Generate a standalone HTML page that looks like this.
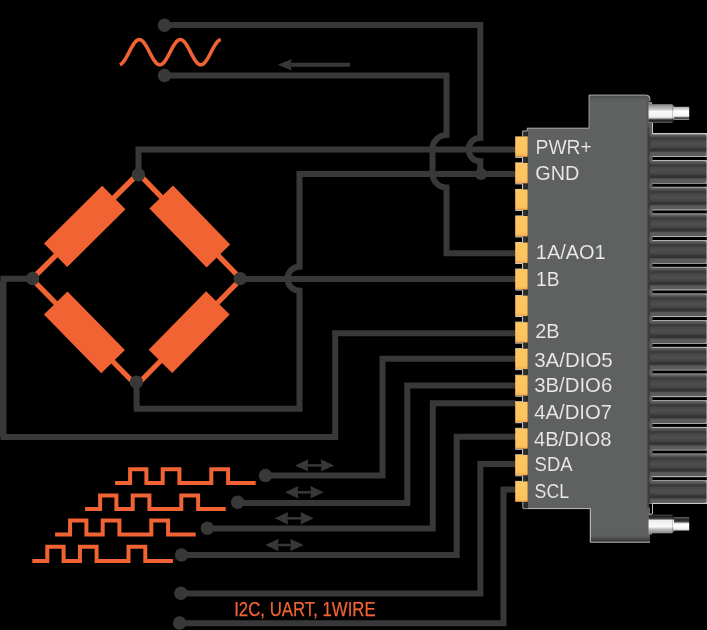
<!DOCTYPE html>
<html><head><meta charset="utf-8"><style>
html,body{margin:0;padding:0;background:#000;width:707px;height:630px;overflow:hidden}
svg{display:block;will-change:transform}
</style></head><body>
<svg width="707" height="630" viewBox="0 0 707 630">
<rect width="707" height="630" fill="#000"/>
<defs>
<linearGradient id="cyl" x1="0" y1="0" x2="0" y2="1">
<stop offset="0" stop-color="#626262"/><stop offset="0.07" stop-color="#5a5a5a"/><stop offset="0.14" stop-color="#444"/><stop offset="0.2" stop-color="#383838"/><stop offset="0.3" stop-color="#474747"/><stop offset="0.45" stop-color="#4e4e4e"/><stop offset="0.58" stop-color="#474747"/><stop offset="0.68" stop-color="#353535"/><stop offset="0.76" stop-color="#333"/><stop offset="0.82" stop-color="#555"/><stop offset="0.9" stop-color="#5d5d5d"/><stop offset="1" stop-color="#5a5a5a"/>
</linearGradient>
<linearGradient id="silverT" x1="0" y1="0" x2="0" y2="1">
<stop offset="0" stop-color="#777"/><stop offset="0.1" stop-color="#9a9a9a"/><stop offset="0.3" stop-color="#c8c8c8"/><stop offset="0.38" stop-color="#f8f8f8"/><stop offset="0.7" stop-color="#f0f0f0"/><stop offset="0.78" stop-color="#9a9a9a"/><stop offset="0.85" stop-color="#222"/><stop offset="0.95" stop-color="#333"/><stop offset="1" stop-color="#888"/>
</linearGradient>
<linearGradient id="silverT2" x1="0" y1="0" x2="0" y2="1">
<stop offset="0" stop-color="#aaa"/><stop offset="0.2" stop-color="#ddd"/><stop offset="0.35" stop-color="#fff"/><stop offset="0.7" stop-color="#f4f4f4"/><stop offset="0.78" stop-color="#999"/><stop offset="0.85" stop-color="#2a2a2a"/><stop offset="1" stop-color="#aaa"/>
</linearGradient>
<linearGradient id="silverB" x1="0" y1="0" x2="0" y2="1">
<stop offset="0" stop-color="#555"/><stop offset="0.08" stop-color="#1e1e1e"/><stop offset="0.22" stop-color="#444"/><stop offset="0.3" stop-color="#eee"/><stop offset="0.65" stop-color="#fafafa"/><stop offset="0.78" stop-color="#bbb"/><stop offset="1" stop-color="#8a8a8a"/>
</linearGradient>
<linearGradient id="silverB2" x1="0" y1="0" x2="0" y2="1">
<stop offset="0" stop-color="#999"/><stop offset="0.1" stop-color="#2a2a2a"/><stop offset="0.3" stop-color="#333"/><stop offset="0.45" stop-color="#ddd"/><stop offset="0.55" stop-color="#fff"/><stop offset="0.85" stop-color="#f4f4f4"/><stop offset="1" stop-color="#bbb"/>
</linearGradient>
<linearGradient id="pin" x1="0" y1="0" x2="0" y2="1">
<stop offset="0" stop-color="#fec664"/><stop offset="0.85" stop-color="#fdc25f"/><stop offset="1" stop-color="#f2a848"/>
</linearGradient>
<linearGradient id="tabshade" x1="0" y1="0" x2="0" y2="1">
<stop offset="0" stop-color="#595959" stop-opacity="0"/><stop offset="1" stop-color="#2a2a2a"/>
</linearGradient>
<linearGradient id="tabtop" x1="0" y1="0" x2="0" y2="1"><stop offset="0" stop-color="#4a4c4b"/><stop offset="1" stop-color="#5f6160" stop-opacity="0"/></linearGradient>
<linearGradient id="rightedge" x1="0" y1="0" x2="1" y2="0"><stop offset="0" stop-color="#5f6160" stop-opacity="0"/><stop offset="1" stop-color="#474948"/></linearGradient>
</defs>
<polyline points="119.80,64.65 120.43,64.41 121.06,64.05 121.69,63.58 122.33,63.01 122.96,62.33 123.59,61.56 124.22,60.70 124.85,59.76 125.48,58.75 126.11,57.68 126.74,56.56 127.38,55.40 128.01,54.21 128.64,53.00 129.27,51.78 129.90,50.56 130.53,49.36 131.16,48.19 131.79,47.06 132.43,45.97 133.06,44.94 133.69,43.98 134.32,43.10 134.95,42.30 135.58,41.59 136.21,40.98 136.84,40.48 137.47,40.09 138.11,39.81 138.74,39.65 139.37,39.60 140.00,39.67 140.63,39.86 141.26,40.17 141.89,40.58 142.53,41.11 143.16,41.74 143.79,42.46 144.42,43.28 145.05,44.18 145.68,45.16 146.31,46.20 146.94,47.30 147.57,48.44 148.21,49.62 148.84,50.83 149.47,52.04 150.10,53.26 150.73,54.47 151.36,55.65 151.99,56.81 152.62,57.92 153.26,58.98 153.89,59.97 154.52,60.89 155.15,61.73 155.78,62.49 156.41,63.14 157.04,63.69 157.68,64.14 158.31,64.47 158.94,64.69 159.57,64.79 160.20,64.78 160.83,64.64 161.46,64.39 162.09,64.03 162.72,63.56 163.36,62.97 163.99,62.29 164.62,61.52 165.25,60.65 165.88,59.71 166.51,58.70 167.14,57.63 167.78,56.50 168.41,55.34 169.04,54.15 169.67,52.94 170.30,51.72 170.93,50.50 171.56,49.31 172.19,48.13 172.83,47.00 173.46,45.92 174.09,44.89 174.72,43.93 175.35,43.05 175.98,42.26 176.61,41.56 177.24,40.96 177.88,40.46 178.51,40.07 179.14,39.80 179.77,39.64 180.40,39.60 181.03,39.68 181.66,39.87 182.29,40.18 182.93,40.61 183.56,41.14 184.19,41.77 184.82,42.50 185.45,43.32 186.08,44.23 186.71,45.21 187.34,46.26 187.98,47.36 188.61,48.50 189.24,49.68 189.87,50.89 190.50,52.10 191.13,53.32 191.76,54.53 192.39,55.71 193.03,56.87 193.66,57.97 194.29,59.03 194.92,60.02 195.55,60.94 196.18,61.77 196.81,62.52 197.44,63.17 198.07,63.72 198.71,64.16 199.34,64.48 199.97,64.70 200.60,64.79 201.23,64.77 201.86,64.63 202.49,64.38 203.12,64.01 203.76,63.53 204.39,62.94 205.02,62.26 205.65,61.48 206.28,60.61 206.91,59.66 207.54,58.65 208.18,57.57 208.81,56.45 209.44,55.28 210.07,54.09 210.70,52.88 211.33,51.66 211.96,50.44 212.59,49.25 213.23,48.08 213.86,46.95 214.49,45.87 215.12,44.84 215.75,43.89 216.38,43.01 217.01,42.22 217.64,41.53 218.28,40.93 218.91,40.44 219.54,40.06 220.17,39.79 220.80,39.64" fill="none" stroke="#f26334" stroke-width="3.6" stroke-linecap="butt" stroke-linejoin="round"/>
<path d="M291,64.7 H350" stroke="#383838" stroke-width="4"/>
<path d="M277.9,64.7 L291.6,59.2 L290.6,64.7 L291.6,70.4 Z" fill="#383838"/>
<line x1="138.4" y1="173.5" x2="241" y2="279" stroke="#f26334" stroke-width="5.3"/>
<rect x="-41" y="-16.5" width="82" height="33" fill="#f26334" transform="translate(189.80,226.50) rotate(45.80)"/>
<line x1="241" y1="279" x2="136.4" y2="385.5" stroke="#f26334" stroke-width="5.3"/>
<rect x="-41" y="-16.5" width="82" height="33" fill="#f26334" transform="translate(189.20,332.10) rotate(134.48)"/>
<line x1="136.4" y1="385.5" x2="32" y2="279" stroke="#f26334" stroke-width="5.3"/>
<rect x="-41" y="-16.5" width="82" height="33" fill="#f26334" transform="translate(84.40,332.30) rotate(-134.43)"/>
<line x1="32" y1="279" x2="138.4" y2="173.5" stroke="#f26334" stroke-width="5.3"/>
<rect x="-41" y="-16.5" width="82" height="33" fill="#f26334" transform="translate(84.70,226.40) rotate(-44.76)"/>
<rect x="0" y="281" width="1.5" height="156" fill="#383838"/>
<path d="M164.5,25 H480.3 V137.8 A11.7,11.7 0 0 0 480.3,161.2 V174" fill="none" stroke="#383838" stroke-width="6" stroke-linejoin="miter"/>
<path d="M164.5,75.5 H446.5 V135 A14,14 0 0 0 432.5,149 V173.5 A14,14 0 0 0 446.5,187.5 V253.2 H516" fill="none" stroke="#383838" stroke-width="6" stroke-linejoin="miter"/>
<path d="M138.5,174.8 V149.5 H516" fill="none" stroke="#383838" stroke-width="6" stroke-linejoin="miter"/>
<path d="M136.6,382.1 V408.8 H299.5 V290.7 A12,12 0 0 1 299.5,266.7 V174 H516" fill="none" stroke="#383838" stroke-width="6" stroke-linejoin="miter"/>
<path d="M240.3,279 H516" fill="none" stroke="#383838" stroke-width="6" stroke-linejoin="miter"/>
<path d="M32.6,278.8 H3.45 V436.9 H335.2 V333.3 H516" fill="none" stroke="#383838" stroke-width="6" stroke-linejoin="miter"/>
<path d="M265.5,475.5 H382.5 V358.8 H516" fill="none" stroke="#383838" stroke-width="6" stroke-linejoin="miter"/>
<path d="M237.6,503 H407.3 V385.5 H516" fill="none" stroke="#383838" stroke-width="6" stroke-linejoin="miter"/>
<path d="M207.5,528.5 H432.8 V403.3 H516" fill="none" stroke="#383838" stroke-width="6" stroke-linejoin="miter"/>
<path d="M181.6,554.9 H456.7 V436.7 H516" fill="none" stroke="#383838" stroke-width="6" stroke-linejoin="miter"/>
<path d="M181,593.5 H480.4 V464 H516" fill="none" stroke="#383838" stroke-width="6" stroke-linejoin="miter"/>
<path d="M179.6,623.2 H503.5 V489.5 H516" fill="none" stroke="#383838" stroke-width="6" stroke-linejoin="miter"/>
<circle cx="164.5" cy="25.2" r="6.7" fill="#383838"/>
<circle cx="164.5" cy="75.5" r="6.7" fill="#383838"/>
<circle cx="481" cy="174" r="6.1" fill="#383838"/>
<circle cx="138.4" cy="174.8" r="6.7" fill="#383838"/>
<circle cx="32.6" cy="278.5" r="6.7" fill="#383838"/>
<circle cx="240.3" cy="278.6" r="6.7" fill="#383838"/>
<circle cx="136.4" cy="382.1" r="6.7" fill="#383838"/>
<circle cx="265.5" cy="475.5" r="6.7" fill="#383838"/>
<circle cx="237.6" cy="502.3" r="6.7" fill="#383838"/>
<circle cx="207.4" cy="528.2" r="6.7" fill="#383838"/>
<circle cx="181.6" cy="554.9" r="6.7" fill="#383838"/>
<circle cx="180.9" cy="593.3" r="6.7" fill="#383838"/>
<circle cx="179.6" cy="623" r="6.7" fill="#383838"/>
<path d="M307,465.4 H322.1" stroke="#383838" stroke-width="2.5"/>
<path d="M295,465.4 L308.3,459.2 L307.5,465.4 L308.3,471.59999999999997 Z" fill="#383838"/>
<path d="M334.1,465.4 L320.8,459.2 L321.6,465.4 L320.8,471.59999999999997 Z" fill="#383838"/>
<path d="M297.1,492.3 H311.7" stroke="#383838" stroke-width="2.5"/>
<path d="M285.1,492.3 L298.40000000000003,486.1 L297.6,492.3 L298.40000000000003,498.5 Z" fill="#383838"/>
<path d="M323.7,492.3 L310.4,486.1 L311.2,492.3 L310.4,498.5 Z" fill="#383838"/>
<path d="M286.8,518.3 H301.8" stroke="#383838" stroke-width="2.5"/>
<path d="M274.8,518.3 L288.1,512.0999999999999 L287.3,518.3 L288.1,524.5 Z" fill="#383838"/>
<path d="M313.8,518.3 L300.5,512.0999999999999 L301.3,518.3 L300.5,524.5 Z" fill="#383838"/>
<path d="M277.3,545 H291.5" stroke="#383838" stroke-width="2.5"/>
<path d="M265.3,545 L278.6,538.8 L277.8,545 L278.6,551.2 Z" fill="#383838"/>
<path d="M303.5,545 L290.2,538.8 L291.0,545 L290.2,551.2 Z" fill="#383838"/>
<path d="M115.1,482.9 H130.1 V469.2 H146.4 V482.9 H162.7 V469.2 H179.4 V482.9 H211.3 V469.2 H228.1 V482.9 H255.7" fill="none" stroke="#f26334" stroke-width="4" stroke-linejoin="miter"/>
<path d="M85.1,508.9 H100.1 V495.5 H116.4 V508.9 H132.7 V495.5 H149.4 V508.9 H181.3 V495.5 H198.1 V508.9 H225.7" fill="none" stroke="#f26334" stroke-width="4" stroke-linejoin="miter"/>
<path d="M55.1,534.6 H70.1 V520.6 H86.4 V534.6 H102.7 V520.6 H119.4 V534.6 H151.3 V520.6 H168.1 V534.6 H195.7" fill="none" stroke="#f26334" stroke-width="4" stroke-linejoin="miter"/>
<path d="M32.3,560.9 H47.3 V546.7 H63.6 V560.9 H79.9 V546.7 H96.6 V560.9 H128.5 V546.7 H145.3 V560.9 H172.9" fill="none" stroke="#f26334" stroke-width="4" stroke-linejoin="miter"/>
<text x="234.2" y="615.8" font-family="Liberation Sans, sans-serif" font-size="19.8" fill="#f26334" stroke="#f26334" stroke-width="0.25" textLength="141.5" lengthAdjust="spacingAndGlyphs">I2C, UART, 1WIRE</text>
<rect x="648.6" y="133.3" width="58.4" height="370.4" fill="#cfcfcf"/>
<rect x="648.6" y="123" width="3.8" height="380.5" fill="#5a5a5a"/>
<rect x="648.6" y="134.20" width="57.9" height="22" rx="2" fill="url(#cyl)"/>
<rect x="648.4" y="134.70" width="1.6" height="21" fill="#393939"/>
<rect x="652.4" y="157.00" width="56" height="3.1" fill="#000"/>
<rect x="648.6" y="160.88" width="57.9" height="22" rx="2" fill="url(#cyl)"/>
<rect x="648.4" y="161.38" width="1.6" height="21" fill="#393939"/>
<rect x="652.4" y="183.68" width="56" height="3.1" fill="#000"/>
<rect x="648.6" y="187.56" width="57.9" height="22" rx="2" fill="url(#cyl)"/>
<rect x="648.4" y="188.06" width="1.6" height="21" fill="#393939"/>
<rect x="652.4" y="210.36" width="56" height="3.1" fill="#000"/>
<rect x="648.6" y="214.24" width="57.9" height="22" rx="2" fill="url(#cyl)"/>
<rect x="648.4" y="214.74" width="1.6" height="21" fill="#393939"/>
<rect x="652.4" y="237.04" width="56" height="3.1" fill="#000"/>
<rect x="648.6" y="240.92" width="57.9" height="22" rx="2" fill="url(#cyl)"/>
<rect x="648.4" y="241.42" width="1.6" height="21" fill="#393939"/>
<rect x="652.4" y="263.72" width="56" height="3.1" fill="#000"/>
<rect x="648.6" y="267.60" width="57.9" height="22" rx="2" fill="url(#cyl)"/>
<rect x="648.4" y="268.10" width="1.6" height="21" fill="#393939"/>
<rect x="652.4" y="290.40" width="56" height="3.1" fill="#000"/>
<rect x="648.6" y="294.28" width="57.9" height="22" rx="2" fill="url(#cyl)"/>
<rect x="648.4" y="294.78" width="1.6" height="21" fill="#393939"/>
<rect x="652.4" y="317.08" width="56" height="3.1" fill="#000"/>
<rect x="648.6" y="320.96" width="57.9" height="22" rx="2" fill="url(#cyl)"/>
<rect x="648.4" y="321.46" width="1.6" height="21" fill="#393939"/>
<rect x="652.4" y="343.76" width="56" height="3.1" fill="#000"/>
<rect x="648.6" y="347.64" width="57.9" height="22" rx="2" fill="url(#cyl)"/>
<rect x="648.4" y="348.14" width="1.6" height="21" fill="#393939"/>
<rect x="652.4" y="370.44" width="56" height="3.1" fill="#000"/>
<rect x="648.6" y="374.32" width="57.9" height="22" rx="2" fill="url(#cyl)"/>
<rect x="648.4" y="374.82" width="1.6" height="21" fill="#393939"/>
<rect x="652.4" y="397.12" width="56" height="3.1" fill="#000"/>
<rect x="648.6" y="401.00" width="57.9" height="22" rx="2" fill="url(#cyl)"/>
<rect x="648.4" y="401.50" width="1.6" height="21" fill="#393939"/>
<rect x="652.4" y="423.80" width="56" height="3.1" fill="#000"/>
<rect x="648.6" y="427.68" width="57.9" height="22" rx="2" fill="url(#cyl)"/>
<rect x="648.4" y="428.18" width="1.6" height="21" fill="#393939"/>
<rect x="652.4" y="450.48" width="56" height="3.1" fill="#000"/>
<rect x="648.6" y="454.36" width="57.9" height="22" rx="2" fill="url(#cyl)"/>
<rect x="648.4" y="454.86" width="1.6" height="21" fill="#393939"/>
<rect x="652.4" y="477.16" width="56" height="3.1" fill="#000"/>
<rect x="648.6" y="481.04" width="57.9" height="22" rx="2" fill="url(#cyl)"/>
<rect x="648.4" y="481.54" width="1.6" height="21" fill="#393939"/>
<rect x="706.6" y="133.3" width="1" height="370.5" fill="#777"/>
<path d="M527.6,128.6 H589.5 V95.5 H646.5 Q649.5,95.5 649.5,98.8 V128 H648.6 V507.5 H650 V541.7 H590 V508.3 H527.6 Z" fill="#5f6160"/>
<rect x="589.5" y="95.9" width="58" height="6" fill="url(#tabtop)"/>
<rect x="645.5" y="98" width="3.2" height="409" fill="url(#rightedge)"/>
<path d="M527.2,131 V128.2 H589.1 V95.1 H646.5 Q649.9,95.1 649.9,98.8 V101" fill="none" stroke="#dcdcdc" stroke-width="0.8"/>
<path d="M652.5,123 V133.6 H707" fill="none" stroke="#d8d8d8" stroke-width="0.9"/>
<path d="M652.5,514 V503.4 H707" fill="none" stroke="#d8d8d8" stroke-width="0.9"/>
<rect x="648.6" y="102" width="3.5" height="21" fill="#8a8a8a"/>
<rect x="648.6" y="513.5" width="3.5" height="21" fill="#8a8a8a"/>
<rect x="590" y="534" width="60" height="7.7" fill="url(#tabshade)"/>
<path d="M523,508.6 H590.3 V542.2 H650" fill="none" stroke="#d8d8d8" stroke-width="0.9"/>
<rect x="647.5" y="128" width="1.6" height="380" fill="#3e3e3e"/>
<rect x="522.8" y="130.8" width="5" height="377.5" fill="#2c2c2c"/>
<path d="M522.6,136.6 V131 H527.4" fill="none" stroke="#d0d0d0" stroke-width="0.8"/>
<path d="M522.8,501 V508.3" fill="none" stroke="#d0d0d0" stroke-width="0.8"/>
<rect x="648.6" y="104.10" width="23.8" height="18.6" fill="url(#silverT)"/>
<path d="M672.3,104.10 L674.2,106.80 V120.00 L672.3,122.70 Z" fill="url(#silverT)"/>
<rect x="674" y="106.80" width="15.2" height="13.2" fill="url(#silverT2)"/>
<rect x="648.6" y="514.70" width="23.8" height="18.6" fill="url(#silverB)"/>
<path d="M672.3,514.70 L674.2,517.40 V530.60 L672.3,533.30 Z" fill="url(#silverB)"/>
<rect x="674" y="517.40" width="15.2" height="13.2" fill="url(#silverB2)"/>
<rect x="515.2" y="136.40" width="12.5" height="20.4" fill="url(#pin)"/>
<path d="M515.2,157.30 H522.6 V162.90 H515.2" fill="none" stroke="#ececec" stroke-width="0.9"/>
<rect x="515.2" y="162.94" width="12.5" height="20.4" fill="url(#pin)"/>
<path d="M515.2,183.84 H522.6 V189.44 H515.2" fill="none" stroke="#ececec" stroke-width="0.9"/>
<rect x="515.2" y="189.48" width="12.5" height="20.4" fill="url(#pin)"/>
<path d="M515.2,210.38 H522.6 V215.98 H515.2" fill="none" stroke="#ececec" stroke-width="0.9"/>
<rect x="515.2" y="216.02" width="12.5" height="20.4" fill="url(#pin)"/>
<path d="M515.2,236.92 H522.6 V242.52 H515.2" fill="none" stroke="#ececec" stroke-width="0.9"/>
<rect x="515.2" y="242.56" width="12.5" height="20.4" fill="url(#pin)"/>
<path d="M515.2,263.46 H522.6 V269.06 H515.2" fill="none" stroke="#ececec" stroke-width="0.9"/>
<rect x="515.2" y="269.10" width="12.5" height="20.4" fill="url(#pin)"/>
<path d="M515.2,290.00 H522.6 V295.60 H515.2" fill="none" stroke="#ececec" stroke-width="0.9"/>
<rect x="515.2" y="295.64" width="12.5" height="20.4" fill="url(#pin)"/>
<path d="M515.2,316.54 H522.6 V322.14 H515.2" fill="none" stroke="#ececec" stroke-width="0.9"/>
<rect x="515.2" y="322.18" width="12.5" height="20.4" fill="url(#pin)"/>
<path d="M515.2,343.08 H522.6 V348.68 H515.2" fill="none" stroke="#ececec" stroke-width="0.9"/>
<rect x="515.2" y="348.72" width="12.5" height="20.4" fill="url(#pin)"/>
<path d="M515.2,369.62 H522.6 V375.22 H515.2" fill="none" stroke="#ececec" stroke-width="0.9"/>
<rect x="515.2" y="375.26" width="12.5" height="20.4" fill="url(#pin)"/>
<path d="M515.2,396.16 H522.6 V401.76 H515.2" fill="none" stroke="#ececec" stroke-width="0.9"/>
<rect x="515.2" y="401.80" width="12.5" height="20.4" fill="url(#pin)"/>
<path d="M515.2,422.70 H522.6 V428.30 H515.2" fill="none" stroke="#ececec" stroke-width="0.9"/>
<rect x="515.2" y="428.34" width="12.5" height="20.4" fill="url(#pin)"/>
<path d="M515.2,449.24 H522.6 V454.84 H515.2" fill="none" stroke="#ececec" stroke-width="0.9"/>
<rect x="515.2" y="454.88" width="12.5" height="20.4" fill="url(#pin)"/>
<path d="M515.2,475.78 H522.6 V481.38 H515.2" fill="none" stroke="#ececec" stroke-width="0.9"/>
<rect x="515.2" y="481.42" width="12.5" height="20.4" fill="url(#pin)"/>
<text transform="translate(535.56,153.8) scale(0.926,1)" x="0" y="0" font-family="Liberation Sans, sans-serif" font-size="20.8" fill="#eaeaea" stroke="#5f6160" stroke-width="0.12">PWR+</text>
<text transform="translate(535.24,179.8) scale(0.955,1)" x="0" y="0" font-family="Liberation Sans, sans-serif" font-size="20.8" fill="#eaeaea" stroke="#5f6160" stroke-width="0.12">GND</text>
<text transform="translate(535.83,258.8) scale(0.96,1)" x="0" y="0" font-family="Liberation Sans, sans-serif" font-size="20.8" fill="#eaeaea" stroke="#5f6160" stroke-width="0.12">1A/AO1</text>
<text transform="translate(536.07,285.9) scale(0.917,1)" x="0" y="0" font-family="Liberation Sans, sans-serif" font-size="20.8" fill="#eaeaea" stroke="#5f6160" stroke-width="0.12">1B</text>
<text transform="translate(535.13,337.9) scale(0.957,1)" x="0" y="0" font-family="Liberation Sans, sans-serif" font-size="20.8" fill="#eaeaea" stroke="#5f6160" stroke-width="0.12">2B</text>
<text transform="translate(534.21,366.7) scale(0.985,1)" x="0" y="0" font-family="Liberation Sans, sans-serif" font-size="20.8" fill="#eaeaea" stroke="#5f6160" stroke-width="0.12">3A/DIO5</text>
<text transform="translate(534.22,392.3) scale(0.978,1)" x="0" y="0" font-family="Liberation Sans, sans-serif" font-size="20.8" fill="#eaeaea" stroke="#5f6160" stroke-width="0.12">3B/DIO6</text>
<text transform="translate(534.22,418.7) scale(0.975,1)" x="0" y="0" font-family="Liberation Sans, sans-serif" font-size="20.8" fill="#eaeaea" stroke="#5f6160" stroke-width="0.12">4A/DIO7</text>
<text transform="translate(533.92,445.9) scale(0.971,1)" x="0" y="0" font-family="Liberation Sans, sans-serif" font-size="20.8" fill="#eaeaea" stroke="#5f6160" stroke-width="0.12">4B/DIO8</text>
<text transform="translate(534.59,471.4) scale(0.888,1)" x="0" y="0" font-family="Liberation Sans, sans-serif" font-size="20.8" fill="#eaeaea" stroke="#5f6160" stroke-width="0.12">SDA</text>
<text transform="translate(534.62,497.9) scale(0.854,1)" x="0" y="0" font-family="Liberation Sans, sans-serif" font-size="20.8" fill="#eaeaea" stroke="#5f6160" stroke-width="0.12">SCL</text>
</svg>
</body></html>
